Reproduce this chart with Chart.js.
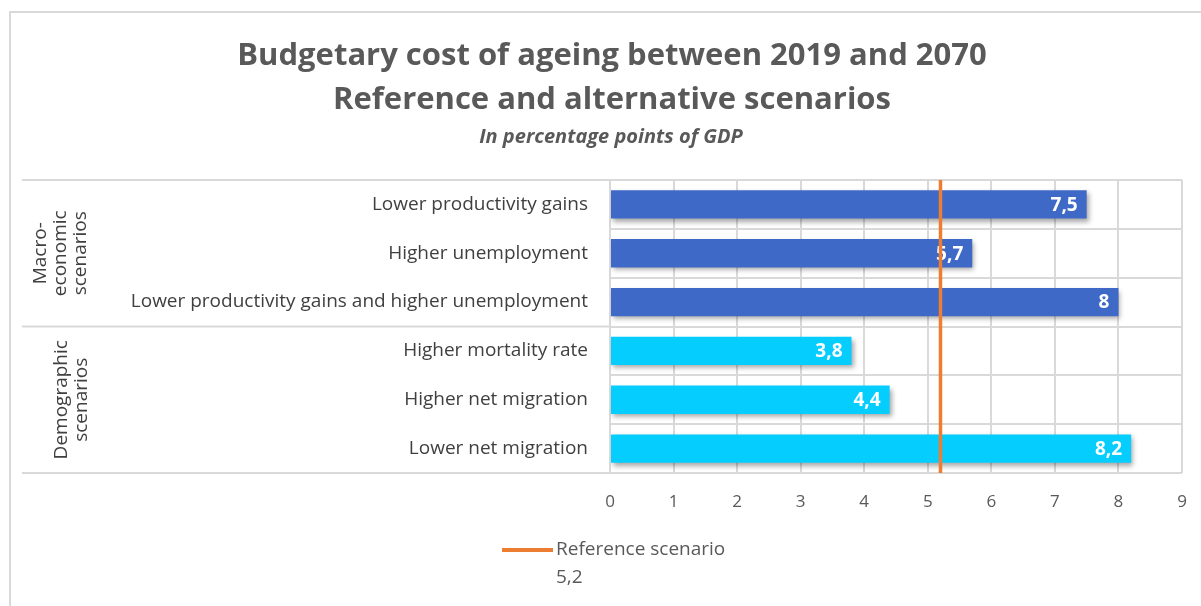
<!DOCTYPE html>
<html>
<head>
<meta charset="utf-8">
<script src="https://cdn.jsdelivr.net/npm/chart.js@4"></script>
<style>
  html, body { margin: 0; padding: 0; background: #fff; }
  #wrap { width: 1201px; height: 606px; position: relative; }
</style>
</head>
<body>
<div id="wrap"><canvas id="chart" width="1201" height="606"></canvas></div>
<script>
// chart data
const categories = [
  "Lower productivity gains",
  "Higher unemployment",
  "Lower productivity gains and higher unemployment",
  "Higher mortality rate",
  "Higher net migration",
  "Lower net migration"
];
const costValues = [7.5, 5.7, 8, 3.8, 4.4, 8.2];
const groupNames = [["Macro-", "economic", "scenarios"], ["Demographic", "scenarios"]];
const groupSizes = [3, 3];
const referenceValue = 5.2;
const referenceLabel = ["Reference scenario", "5,2"];
const xTicks = [0, 1, 2, 3, 4, 5, 6, 7, 8, 9];

const macroColor = "#3F69C6";
const demoColor = "#05CEFF";
const refColor = "#ED7D31";
const gridColor = "#D9D9D9";
const textGray = "#595959";

const barColors = [];
groupSizes.forEach((n, g) => {
  for (let i = 0; i < n; i++) barColors.push(g === 0 ? macroColor : demoColor);
});

function fmt(v) {
  return String(v).replace(".", ",");
}

const extrasPlugin = {
  id: "extras",
  beforeDatasetsDraw(chart) {
    const ctx = chart.ctx;
    ctx.save();
    ctx.shadowColor = "rgba(0,0,0,0.35)";
    ctx.shadowBlur = 5;
    ctx.shadowOffsetX = 2;
    ctx.shadowOffsetY = 3;
  },
  afterDatasetsDraw(chart) {
    const ctx = chart.ctx;
    ctx.restore();
    const meta = chart.getDatasetMeta(0);
    const x = chart.scales.x;
    const area = chart.chartArea;

    // data labels at the inner end of each bar
    ctx.save();
    ctx.fillStyle = "#fff";
    ctx.font = "bold 19px 'Open Sans'";
    ctx.textAlign = "right";
    ctx.textBaseline = "middle";
    meta.data.forEach((bar, i) => {
      ctx.fillText(fmt(costValues[i]), bar.x - 9, bar.y + 1);
    });
    ctx.restore();

    // reference line
    const rx = x.getPixelForValue(referenceValue);
    ctx.save();
    ctx.strokeStyle = refColor;
    ctx.lineWidth = 3.5;
    ctx.beginPath();
    ctx.moveTo(rx, area.top);
    ctx.lineTo(rx, area.bottom);
    ctx.stroke();
    ctx.restore();
  },
  afterDraw(chart) {
    const ctx = chart.ctx;
    const area = chart.chartArea;
    const y = chart.scales.y;
    ctx.save();

    // outer frame
    ctx.strokeStyle = gridColor;
    ctx.lineWidth = 2;
    ctx.strokeRect(10, 12, 1300, 700);

    // titles
    ctx.fillStyle = textGray;
    ctx.textAlign = "center";
    ctx.textBaseline = "middle";
    ctx.font = "bold 31px 'Open Sans'";
    ctx.fillText("Budgetary cost of ageing between 2019 and 2070", 612, 56);
    ctx.fillText("Reference and alternative scenarios", 612, 100);
    ctx.font = "italic bold 20px 'Open Sans'";
    ctx.fillText("In percentage points of GDP", 611, 137);

    // group separators and group labels
    ctx.strokeStyle = gridColor;
    ctx.lineWidth = 2;
    const half = (y.getPixelForValue(1) - y.getPixelForValue(0)) / 2;
    let start = 0;
    const bounds = [area.top];
    groupSizes.forEach((n) => {
      start += n;
      bounds.push(y.getPixelForValue(start - 1) + half);
    });
    bounds.forEach((by) => {
      ctx.beginPath();
      ctx.moveTo(22, by);
      ctx.lineTo(area.left, by);
      ctx.stroke();
    });
    ctx.fillStyle = "#404040";
    ctx.font = "19px 'Open Sans'";
    const colX = [61, 72];
    groupNames.forEach((lines, g) => {
      const cy = (bounds[g] + bounds[g + 1]) / 2;
      ctx.save();
      ctx.translate(colX[g], cy);
      ctx.rotate(-Math.PI / 2);
      const lh = 20;
      lines.forEach((t, k) => {
        ctx.fillText(t, 0, (k - (lines.length - 1) / 2) * lh);
      });
      ctx.restore();
    });

    // legend
    ctx.strokeStyle = refColor;
    ctx.lineWidth = 4;
    ctx.beginPath();
    ctx.moveTo(502, 550);
    ctx.lineTo(553, 550);
    ctx.stroke();
    ctx.fillStyle = textGray;
    ctx.font = "19px 'Open Sans'";
    ctx.textAlign = "left";
    ctx.fillText(referenceLabel[0], 556, 550);
    ctx.fillText(referenceLabel[1], 556, 578);
    ctx.restore();
  }
};

new Chart(document.getElementById("chart"), {
  type: "bar",
  data: {
    labels: categories,
    datasets: [{
      data: costValues,
      backgroundColor: barColors,
      barPercentage: 0.58,
      categoryPercentage: 1
    }]
  },
  options: {
    indexAxis: "y",
    responsive: false,
    animation: false,
    layout: { padding: { top: 180, right: 19, bottom: 93, left: 0 } },
    plugins: {
      legend: { display: false },
      tooltip: { enabled: false }
    },
    scales: {
      x: {
        min: 0,
        max: 9,
        afterBuildTicks: (s) => { s.ticks = xTicks.map((v) => ({ value: v })); },
        afterFit: (s) => { s.height = 40; s.paddingLeft = 0; s.paddingRight = 0; },
        grid: { color: gridColor, lineWidth: 2, drawTicks: false },
        border: { display: false },
        ticks: { color: textGray, font: { family: "'Open Sans'", size: 17 }, padding: 19 }
      },
      y: {
        afterFit: (s) => { s.width = 610; s.paddingTop = 0; s.paddingBottom = 0; },
        grid: { color: gridColor, lineWidth: 2, drawTicks: false, offset: true },
        border: { display: false },
        ticks: { color: "#404040", font: { family: "'Open Sans'", size: 19 }, padding: 22 }
      }
    }
  },
  plugins: [extrasPlugin]
});
</script>
</body>
</html>
